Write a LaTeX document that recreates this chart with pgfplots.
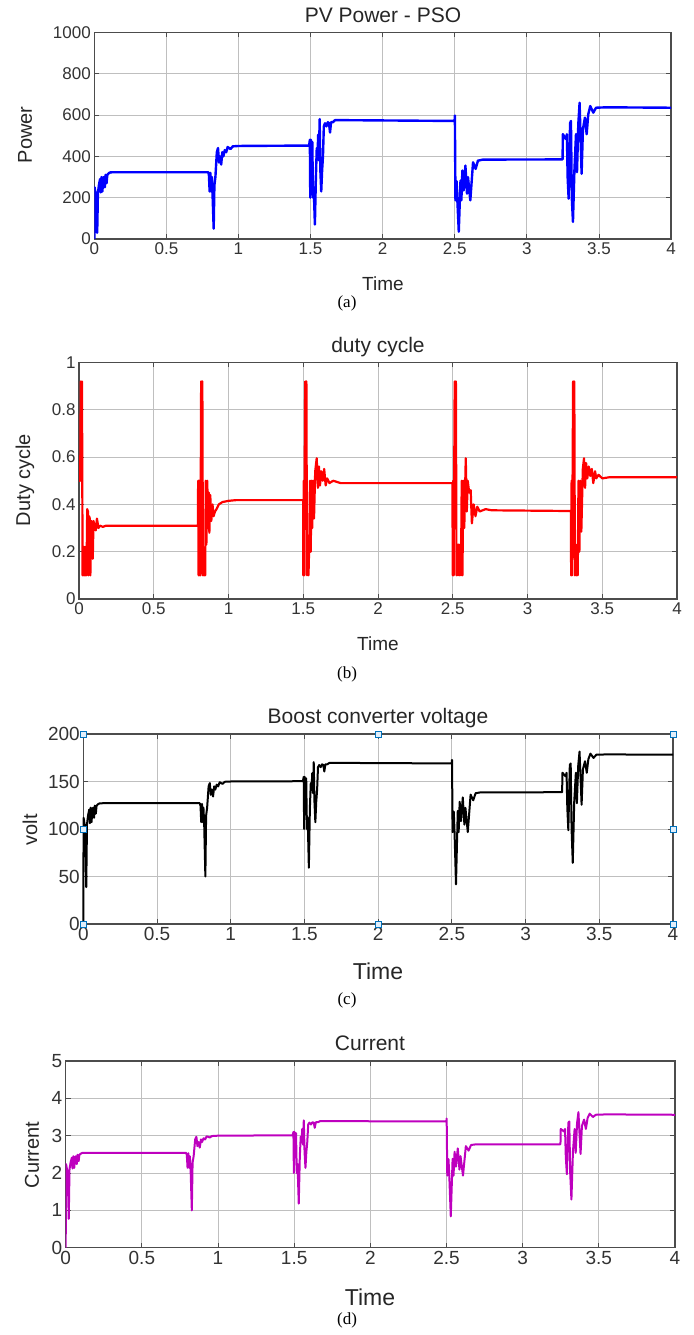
\documentclass[border=0pt]{standalone}
\usepackage{fontspec}
\setmainfont{Liberation Sans}
\newfontfamily\capfont{Liberation Serif}
\usepackage{pgfplots}
\usepackage{pgfplotstable}
\pgfplotsset{compat=1.18}
\definecolor{pvblue}{RGB}{0,0,255}
\definecolor{dred}{RGB}{255,0,0}
\definecolor{mag}{RGB}{190,0,190}
\definecolor{hblue}{RGB}{0,114,189}
\definecolor{hfill}{RGB}{225,238,250}

\pgfplotstableread{
t P V I
0 0 0 0
0.002 250 111.8 2.24
0.01 215 103.7 2.07
0.014 180 94.9 1.90
0.02 30 38.7 0.77
0.025 220 104.9 2.10
0.032 260 114.0 2.28
0.04 290 120.4 2.41
0.045 225 106.1 2.12
0.05 300 122.5 2.45
0.056 230 107.2 2.14
0.062 295 121.4 2.43
0.068 300 122.5 2.45
0.073 250 111.8 2.24
0.078 310 124.5 2.49
0.085 270 116.2 2.32
0.09 310 124.5 2.49
0.1 318 126.1 2.52
0.11 322 126.9 2.54
0.13 323 127.1 2.54
0.79 323 127.1 2.54
0.795 310 124.5 2.49
0.8 230 107.2 2.14
0.805 320 126.5 2.53
0.81 230 107.2 2.14
0.815 300 122.5 2.45
0.82 220 104.9 2.10
0.828 50 50.0 1.00
0.833 260 114.0 2.28
0.84 300 122.5 2.45
0.85 420 144.9 2.90
0.858 440 148.3 2.97
0.865 370 136.0 2.72
0.872 400 141.4 2.83
0.88 360 134.2 2.68
0.888 420 144.9 2.90
0.895 400 141.4 2.83
0.905 430 146.6 2.93
0.915 420 144.9 2.90
0.925 445 149.2 2.98
0.935 440 148.3 2.97
0.945 435 147.5 2.95
0.96 448 149.7 2.99
1.0 450 150.0 3.00
1.49 452 150.3 3.01
1.495 480 154.9 3.10
1.498 200 100.0 2.00
1.502 480 154.9 3.10
1.507 300 122.5 2.45
1.512 470 153.3 3.07
1.517 200 100.0 2.00
1.522 250 111.8 2.24
1.53 70 59.2 1.18
1.537 300 122.5 2.45
1.543 440 148.3 2.97
1.548 400 141.4 2.83
1.553 505 158.9 3.18
1.558 380 137.8 2.76
1.563 580 170.3 3.41
1.568 330 128.5 2.57
1.574 230 107.2 2.14
1.58 330 128.5 2.57
1.586 400 141.4 2.83
1.592 545 165.1 3.30
1.6 560 167.3 3.35
1.61 545 165.1 3.30
1.62 565 168.1 3.36
1.628 560 167.3 3.35
1.635 515 160.5 3.21
1.642 565 168.1 3.36
1.655 565 168.1 3.36
1.67 575 169.6 3.39
1.7 575 169.6 3.39
2.499 571 169.0 3.38
2.501 597 172.8 3.46
2.505 187 96.7 1.93
2.513 280 118.3 2.37
2.518 190 97.5 1.95
2.528 35 41.8 0.84
2.54 283 119.0 2.38
2.546 187 96.7 1.93
2.553 331 128.6 2.57
2.562 235 108.4 2.17
2.574 355 133.2 2.66
2.585 219 104.6 2.09
2.592 299 122.3 2.45
2.608 187 96.7 1.93
2.627 371 136.2 2.72
2.645 339 130.2 2.60
2.661 379 137.7 2.75
2.696 384 138.6 2.77
3.248 385 138.7 2.77
3.25 507 159.2 3.18
3.272 483 155.4 3.11
3.278 507 159.2 3.18
3.283 300 122.5 2.45
3.29 195 98.7 1.97
3.3 560 167.3 3.35
3.306 571 169.0 3.38
3.312 200 100.0 2.00
3.32 83 64.4 1.29
3.33 331 128.6 2.57
3.341 507 159.2 3.18
3.348 323 127.1 2.54
3.357 555 166.6 3.33
3.366 659 181.5 3.63
3.38 315 125.5 2.51
3.389 531 162.9 3.26
3.403 587 171.3 3.43
3.415 507 159.2 3.18
3.426 603 173.6 3.47
3.44 643 179.3 3.59
3.461 611 174.8 3.50
3.48 635 178.2 3.56
3.55 637 178.5 3.57
4 635 178.2 3.56
}\pvdata

\pgfplotstableread{
t D
0 0.5
0.008 0.5
0.012 0.92
0.016 0.5
0.02 0.92
0.024 0.1
0.027 0.22
0.03 0.1
0.033 0.22
0.036 0.1
0.04 0.22
0.043 0.1
0.047 0.22
0.05 0.1
0.055 0.38
0.06 0.37
0.063 0.1
0.068 0.35
0.072 0.34
0.076 0.1
0.082 0.33
0.088 0.32
0.092 0.17
0.097 0.33
0.105 0.3
0.112 0.29
0.12 0.34
0.13 0.3
0.14 0.31
0.16 0.305
0.18 0.31
0.795 0.31
0.797 0.5
0.8 0.1
0.803 0.5
0.806 0.1
0.809 0.5
0.812 0.1
0.817 0.92
0.821 0.5
0.825 0.92
0.829 0.1
0.833 0.22
0.837 0.1
0.841 0.22
0.844 0.1
0.848 0.5
0.852 0.23
0.858 0.5
0.863 0.3
0.868 0.45
0.872 0.28
0.878 0.44
0.885 0.33
0.893 0.4
0.9 0.35
0.91 0.37
0.92 0.38
0.935 0.4
0.96 0.41
1.0 0.415
1.05 0.418
1.499 0.418
1.5 0.1
1.503 0.5
1.506 0.1
1.513 0.92
1.517 0.5
1.521 0.92
1.525 0.1
1.53 0.23
1.535 0.1
1.54 0.23
1.545 0.5
1.55 0.2
1.555 0.5
1.56 0.3
1.565 0.5
1.572 0.34
1.58 0.54
1.59 0.595
1.598 0.47
1.605 0.56
1.612 0.48
1.62 0.54
1.63 0.5
1.64 0.55
1.65 0.48
1.66 0.51
1.675 0.49
1.7 0.5
1.75 0.49
2.498 0.49
2.5 0.1
2.503 0.5
2.506 0.1
2.513 0.92
2.517 0.5
2.521 0.92
2.525 0.1
2.53 0.23
2.535 0.1
2.54 0.23
2.545 0.1
2.55 0.23
2.555 0.1
2.56 0.5
2.565 0.1
2.57 0.5
2.577 0.3
2.587 0.595
2.594 0.37
2.6 0.5
2.61 0.45
2.62 0.46
2.628 0.32
2.64 0.4
2.652 0.35
2.664 0.39
2.68 0.37
2.72 0.38
2.76 0.375
3.29 0.372
3.292 0.1
3.295 0.5
3.298 0.1
3.305 0.92
3.309 0.5
3.313 0.92
3.317 0.1
3.322 0.23
3.327 0.1
3.332 0.23
3.336 0.1
3.341 0.5
3.347 0.2
3.353 0.5
3.36 0.285
3.37 0.55
3.378 0.595
3.385 0.47
3.392 0.575
3.4 0.51
3.41 0.56
3.42 0.52
3.43 0.55
3.44 0.49
3.452 0.54
3.46 0.51
3.475 0.525
3.5 0.51
3.55 0.515
4 0.515
}\dutydata

\pgfplotsset{
  mstyle/.style={
    scale only axis, anchor=south west,
    xmin=0, xmax=4,
    xtick={0,0.5,1,1.5,2,2.5,3,3.5,4},
    xticklabels={0,0.5,1,1.5,2,2.5,3,3.5,4},
    grid=major,
    grid style={draw=black!25, line width=0.8pt},
    axis line style={draw=black!70, line width=1.1pt},
    major tick style={draw=black!70, line width=0.8pt},
    tick align=inside, major tick length=5pt,
    /pgf/number format/assume math mode=true,
    /pgf/number format/1000 sep={},
    tick label style={text=black!80},
  }
}

\begin{document}
\begin{tikzpicture}[x=1pt,y=1pt]
\path (0pt,0pt) rectangle (693pt,1335pt);

% (a)
\begin{axis}[mstyle, at={(94.3pt,1096pt)}, width=576.7pt, height=206.7pt,
  ymin=0, ymax=1000, ytick={0,200,400,600,800,1000},
  yticklabels={0,200,400,600,800,1000},
  tick label style={font=\fontsize{17}{17}\selectfont}]
\addplot[pvblue, line width=2.4pt, line join=round] table[x=t,y=P]{\pvdata};
\end{axis}
\node[font=\fontsize{21}{21}\selectfont, text=black!85] at (383pt,1320pt) {PV Power - PSO};
\node[font=\fontsize{19}{19}\selectfont, text=black!85] at (383pt,1051pt) {Time};
\node[font=\fontsize{20}{20}\selectfont, text=black!85, rotate=90] at (25pt,1200pt) {Power};
\node[font=\capfont\fontsize{17}{17}\selectfont] at (347pt,1032pt) {(a)};

% (b)
\begin{axis}[mstyle, at={(79pt,736pt)}, width=598pt, height=236.5pt,
  ymin=0, ymax=1, ytick={0,0.2,0.4,0.6,0.8,1},
  yticklabels={0,0.2,0.4,0.6,0.8,1},
  tick label style={font=\fontsize{17}{17}\selectfont}]
\addplot[dred, line width=2.2pt, line join=round] table[x=t,y=D]{\dutydata};
\end{axis}
\node[font=\fontsize{21}{21}\selectfont, text=black!85] at (378pt,988pt) {duty cycle};
\node[font=\fontsize{19}{19}\selectfont, text=black!85] at (378pt,691pt) {Time};
\node[font=\fontsize{20}{20}\selectfont, text=black!85, rotate=90] at (25pt,855pt) {Duty cycle};
\node[font=\capfont\fontsize{17}{17}\selectfont] at (347pt,661pt) {(b)};

% (c)
\begin{axis}[mstyle, at={(83.3pt,411pt)}, width=589.7pt, height=190pt,
  ymin=0, ymax=200, ytick={0,50,100,150,200}, clip=false,
  yticklabels={0,50,100,150,200},
  tick label style={font=\fontsize{19}{19}\selectfont}]
\addplot[black, line width=2pt, line join=round] table[x=t,y=V]{\pvdata};
\addplot[only marks, mark=square*, mark size=3pt, mark options={draw=hblue, fill=hfill, line width=0.8pt}]
  coordinates {(0,0) (0,100) (0,200) (2,200) (4,200) (4,100) (4,0) (2,0)};
\end{axis}
\node[font=\fontsize{21}{21}\selectfont, text=black!85] at (378pt,617pt) {Boost converter voltage};
\node[font=\fontsize{23}{23}\selectfont, text=black!85] at (378pt,364pt) {Time};
\node[font=\fontsize{20}{20}\selectfont, text=black!85, rotate=90] at (30pt,505pt) {volt};
\node[font=\capfont\fontsize{17}{17}\selectfont] at (347pt,335pt) {(c)};

% (d)
\begin{axis}[mstyle, at={(65.7pt,87.3pt)}, width=609.3pt, height=186.7pt,
  ymin=0, ymax=5, ytick={0,1,2,3,4,5},
  yticklabels={0,1,2,3,4,5},
  tick label style={font=\fontsize{19}{19}\selectfont}]
\addplot[mag, line width=2pt, line join=round] table[x=t,y=I]{\pvdata};
\end{axis}
\node[font=\fontsize{21}{21}\selectfont, text=black!85] at (370pt,292pt) {Current};
\node[font=\fontsize{23}{23}\selectfont, text=black!85] at (370pt,38pt) {Time};
\node[font=\fontsize{20}{20}\selectfont, text=black!85, rotate=90] at (32pt,180pt) {Current};
\node[font=\capfont\fontsize{17}{17}\selectfont] at (347pt,15pt) {(d)};
\end{tikzpicture}
\end{document}
